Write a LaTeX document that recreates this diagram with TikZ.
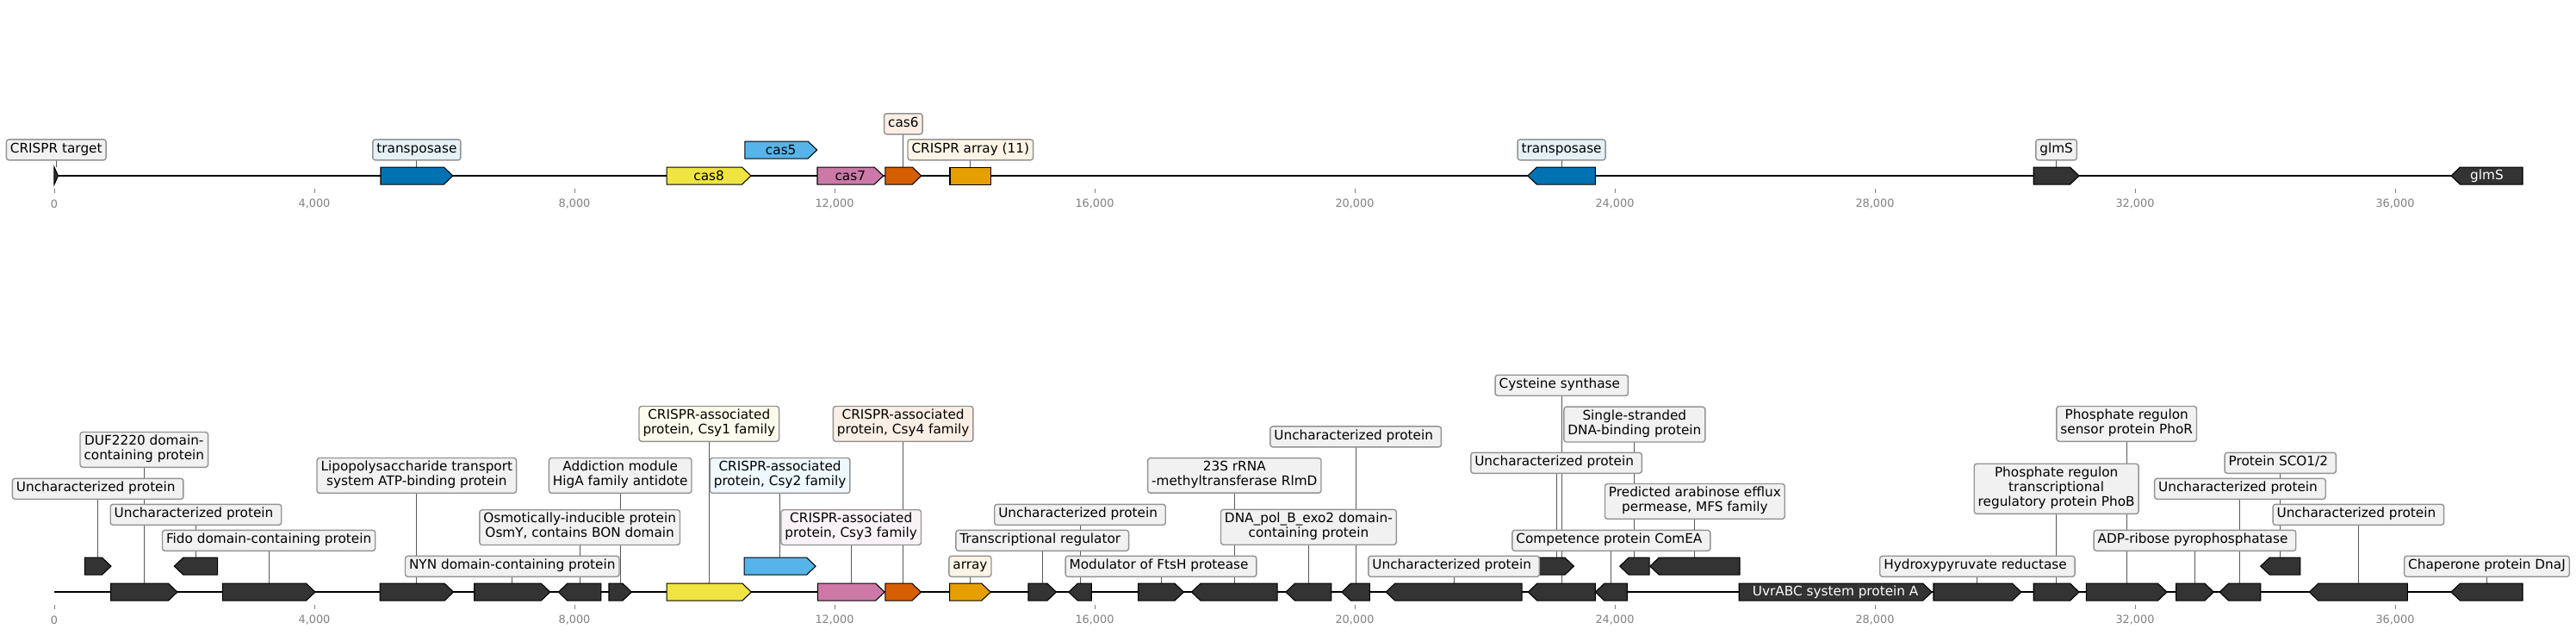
\documentclass[tikz,border=0pt]{standalone}
\usepackage{fontspec}
\setmainfont{DejaVu Sans}
\usetikzlibrary{calc,positioning}

\definecolor{gdark}{HTML}{333333}
\definecolor{gblue}{HTML}{0072B2}
\definecolor{gsky}{HTML}{56B4E9}
\definecolor{gyellow}{HTML}{F0E442}
\definecolor{gpink}{HTML}{CC79A7}
\definecolor{gverm}{HTML}{D55E00}
\definecolor{gorange}{HTML}{E69F00}

\pgfdeclarelayer{bg}
\pgfsetlayers{bg,main}

% gene arrows: [fill] name start end ymid  (x in kb, y in px)
\newcommand{\genefwd}[5][gdark]{%
	\pgfmathsetmacro{\ghead}{min(0.139,#4-#3)}%
	\draw[gene,fill=#1] (#3,#5-10) -- ({#4-\ghead},#5-10) -- (#4,#5) -- ({#4-\ghead},#5+10) -- (#3,#5+10) -- cycle;
	\coordinate (#2) at ({(#3+#4)/2},#5-10);
	\coordinate (#2-m) at ({(#3+#4)/2},#5);
}
\newcommand{\generev}[5][gdark]{%
	\pgfmathsetmacro{\ghead}{min(0.139,#4-#3)}%
	\draw[gene,fill=#1] (#4,#5-10) -- ({#3+\ghead},#5-10) -- (#3,#5) -- ({#3+\ghead},#5+10) -- (#4,#5+10) -- cycle;
	\coordinate (#2) at ({(#3+#4)/2},#5-10);
	\coordinate (#2-m) at ({(#3+#4)/2},#5);
}

\begin{document}
\begin{tikzpicture}[x=1.51cm,y=-0.02cm,
		font=\fontsize{8.7}{9.85}\selectfont,
		gene/.style={draw=black,line width=0.6pt},
		axis/.style={line width=1.5pt},
		lab/.style={draw=gray!85,line width=0.8pt,rounded corners=0.06cm,fill=gdark!7!white,
			inner xsep=0.09cm,inner ysep=0.067cm,align=center,
			execute at begin node=\strut,execute at end node=\strut},
		link/.style={draw=black!65,line width=0.55pt},
		gtext/.style={inner sep=0pt},
		tick/.style={draw=gray,line width=0.5pt},
		ticklab/.style={text=gray,font=\fontsize{7.3}{8}\selectfont,inner sep=0pt}]
	\useasboundingbox (-0.8344,0) rectangle (38.7815,736);

	% tracks and scales
	\draw[axis] (0,204) -- (37.96,204);
	\draw[axis] (0,687) -- (37.96,687);
	\foreach \k/\t in {0/0,4/{4,000},8/{8,000},12/{12,000},16/{16,000},20/{20,000},24/{24,000},28/{28,000},32/{32,000},36/{36,000}} {
		\draw[tick] (\k,219) -- (\k,224);
		\node[ticklab] (tk-a\k) at (\k,236.7) {\t};
		\draw[tick] (\k,702) -- (\k,707);
		\node[ticklab] (tk-b\k) at (\k,719.3) {\t};
	}

	% upper track
	\genefwd{t0}{0}{0.06}{204}
	\genefwd[gblue]{t1}{5.02}{6.13}{204}
	\genefwd[gyellow]{t2}{9.42}{10.715}{204}
	\genefwd[gsky]{t3}{10.62}{11.73}{174}
	\genefwd[gpink]{t4}{11.735}{12.75}{204}
	\genefwd[gverm]{t5}{12.78}{13.335}{204}
	\draw[gene,fill=gorange] (13.775,194) rectangle (14.405,214);
	\coordinate (t6) at (14.09,194);
	\generev[gblue]{t7}{22.66}{23.70}{204}
	\genefwd{t8}{30.44}{31.14}{204}
	\generev{t9}{36.86}{37.96}{204}

	\node[gtext] (n-t2) at (t2-m) {cas8};
	\node[gtext] (n-t3) at (t3-m) {cas5};
	\node[gtext] (n-t4) at (t4-m) {cas7};
	\node[gtext,text=white] (n-t9) at (t9-m) {glmS};

	\node[lab] (l-t0) at (t0 |- 0,173.8) {CRISPR target};
	\node[lab,fill=gblue!10!white] (l-t1) at (t1 |- 0,173.8) {transposase};
	\node[lab,fill=gverm!10!white] (l-t5) at (t5 |- 0,143.8) {cas6};
	\node[lab,fill=gorange!10!white] (l-t6) at (t6 |- 0,173.8) {CRISPR array (11)};
	\node[lab,fill=gblue!10!white] (l-t7) at (t7 |- 0,173.8) {transposase};
	\node[lab] (l-t8) at (t8 |- 0,173.8) {glmS};

	% lower track
	\genefwd{b1}{0.468}{0.874}{657}
	\genefwd{b2}{0.87}{1.894}{687}
	\generev{b3}{1.845}{2.512}{657}
	\genefwd{b4}{2.587}{4.013}{687}
	\genefwd{b5}{5.007}{6.14}{687}
	\genefwd{b6}{6.46}{7.626}{687}
	\generev{b7}{7.753}{8.41}{687}
	\genefwd{b8}{8.53}{8.88}{687}
	\genefwd[gyellow]{b9}{9.42}{10.72}{687}
	\genefwd[gsky]{b10}{10.61}{11.71}{657}
	\genefwd[gpink]{b11}{11.74}{12.77}{687}
	\genefwd[gverm]{b12}{12.78}{13.33}{687}
	\genefwd[gorange]{b13}{13.77}{14.40}{687}
	\genefwd{b14}{14.98}{15.41}{687}
	\generev{b15}{15.6}{15.95}{687}
	\genefwd{b16}{16.67}{17.37}{687}
	\generev{b17}{17.49}{18.81}{687}
	\generev{b18}{18.94}{19.64}{687}
	\generev{b19}{19.8}{20.23}{687}
	\generev{b20}{20.48}{22.57}{687}
	\generev{b21}{22.666}{23.699}{687}
	\genefwd{b22}{22.83}{23.37}{657}
	\generev{b23}{23.70}{24.19}{687}
	\generev{b24}{24.075}{24.53}{657}
	\generev{b25}{24.54}{25.92}{657}
	\genefwd{b26}{25.91}{28.876}{687}
	\genefwd{b27}{28.9}{30.25}{687}
	\genefwd{b28}{30.44}{31.14}{687}
	\genefwd{b29}{31.25}{32.49}{687}
	\genefwd{b30}{32.63}{33.21}{687}
	\generev{b31}{33.30}{33.93}{687}
	\generev{b32}{33.93}{34.54}{657}
	\generev{b33}{34.68}{36.19}{687}
	\generev{b34}{36.86}{37.96}{687}

	\node[gtext,text=white] (n-b26) at (b26-m) {UvrABC system protein A};

	\node[lab] (l-b1) at (b1 |- 0,567.2) {Uncharacterized protein\ };
	\node[lab] (l-b2) at (b2 |- 0,521.8) {DUF2220 domain-\\containing protein};
	\node[lab] (l-b3) at (b3 |- 0,597.2) {Uncharacterized protein\ };
	\node[lab] (l-b4) at (b4 |- 0,627.2) {Fido domain-containing protein};
	\node[lab] (l-b5) at (b5 |- 0,551.8) {Lipopolysaccharide transport\\system ATP-binding protein};
	\node[lab] (l-b6) at (b6 |- 0,657.2) {NYN domain-containing protein};
	\node[lab] (l-b7) at (b7 |- 0,612) {Osmotically-inducible protein\\OsmY, contains BON domain};
	\node[lab] (l-b8) at (b8 |- 0,551.8) {Addiction module\\HigA family antidote};
	\node[lab,fill=gyellow!10!white] (l-b9) at (b9 |- 0,491.8) {CRISPR-associated\\protein, Csy1 family};
	\node[lab,fill=gsky!10!white] (l-b10) at (b10 |- 0,551.8) {CRISPR-associated\\protein, Csy2 family};
	\node[lab,fill=gpink!10!white] (l-b11) at (b11 |- 0,612) {CRISPR-associated\\protein, Csy3 family};
	\node[lab,fill=gverm!10!white] (l-b12) at (b12 |- 0,491.8) {CRISPR-associated\\protein, Csy4 family};
	\node[lab,fill=gorange!10!white] (l-b13) at (b13 |- 0,657.2) {array};
	\node[lab] (l-b14) at (b14 |- 0,627.2) {Transcriptional regulator\ };
	\node[lab] (l-b15) at (b15 |- 0,597.2) {Uncharacterized protein\ };
	\node[lab] (l-b16) at (b16 |- 0,657.2) {Modulator of FtsH protease\ };
	\node[lab] (l-b17) at (b17 |- 0,551.8) {23S rRNA\\-methyltransferase RlmD};
	\node[lab] (l-b18) at (b18 |- 0,611.7) {DNA\_pol\_B\_exo2 domain-\\containing protein};
	\node[lab] (l-b19) at (b19 |- 0,506.8) {Uncharacterized protein\ };
	\node[lab] (l-b20) at (b20 |- 0,657.2) {Uncharacterized protein\ };
	\node[lab] (l-b21) at (b21 |- 0,447.2) {Cysteine synthase\ };
	\node[lab] (l-b22) at (b22 |- 0,537.2) {Uncharacterized protein\ };
	\node[lab] (l-b23) at (b23 |- 0,627.2) {Competence protein ComEA\ };
	\node[lab] (l-b24) at (b24 |- 0,492.5) {Single-stranded\\DNA-binding protein};
	\node[lab] (l-b25) at (b25 |- 0,581.8) {Predicted arabinose efflux\\permease, MFS family};
	\node[lab] (l-b27) at (b27 |- 0,657.2) {Hydroxypyruvate reductase\ };
	\node[lab] (l-b28) at (b28 |- 0,567.2) {Phosphate regulon\\transcriptional\\regulatory protein PhoB};
	\node[lab] (l-b29) at (b29 |- 0,491.8) {Phosphate regulon\\sensor protein PhoR};
	\node[lab] (l-b30) at (b30 |- 0,627.2) {ADP-ribose pyrophosphatase\ };
	\node[lab] (l-b31) at (b31 |- 0,567.2) {Uncharacterized protein\ };
	\node[lab] (l-b32) at (b32 |- 0,537.2) {Protein SCO1/2\ };
	\node[lab] (l-b33) at (b33 |- 0,597.2) {Uncharacterized protein\ };
	\node[lab] (l-b34) at (b34 |- 0,657.2) {Chaperone protein DnaJ};

	% label leaders, behind everything
	\begin{pgfonlayer}{bg}
		\foreach \g in {t0,t1,t5,t6,t7,t8,b1,b2,b3,b4,b5,b6,b7,b8,b9,b10,b11,b12,b13,b14,b15,b16,b17,b18,b19,b20,b21,b22,b23,b24,b25,b27,b28,b29,b30,b31,b32,b33,b34}
			\draw[link] (l-\g.center) -- (\g);
	\end{pgfonlayer}
\end{tikzpicture}
\end{document}
